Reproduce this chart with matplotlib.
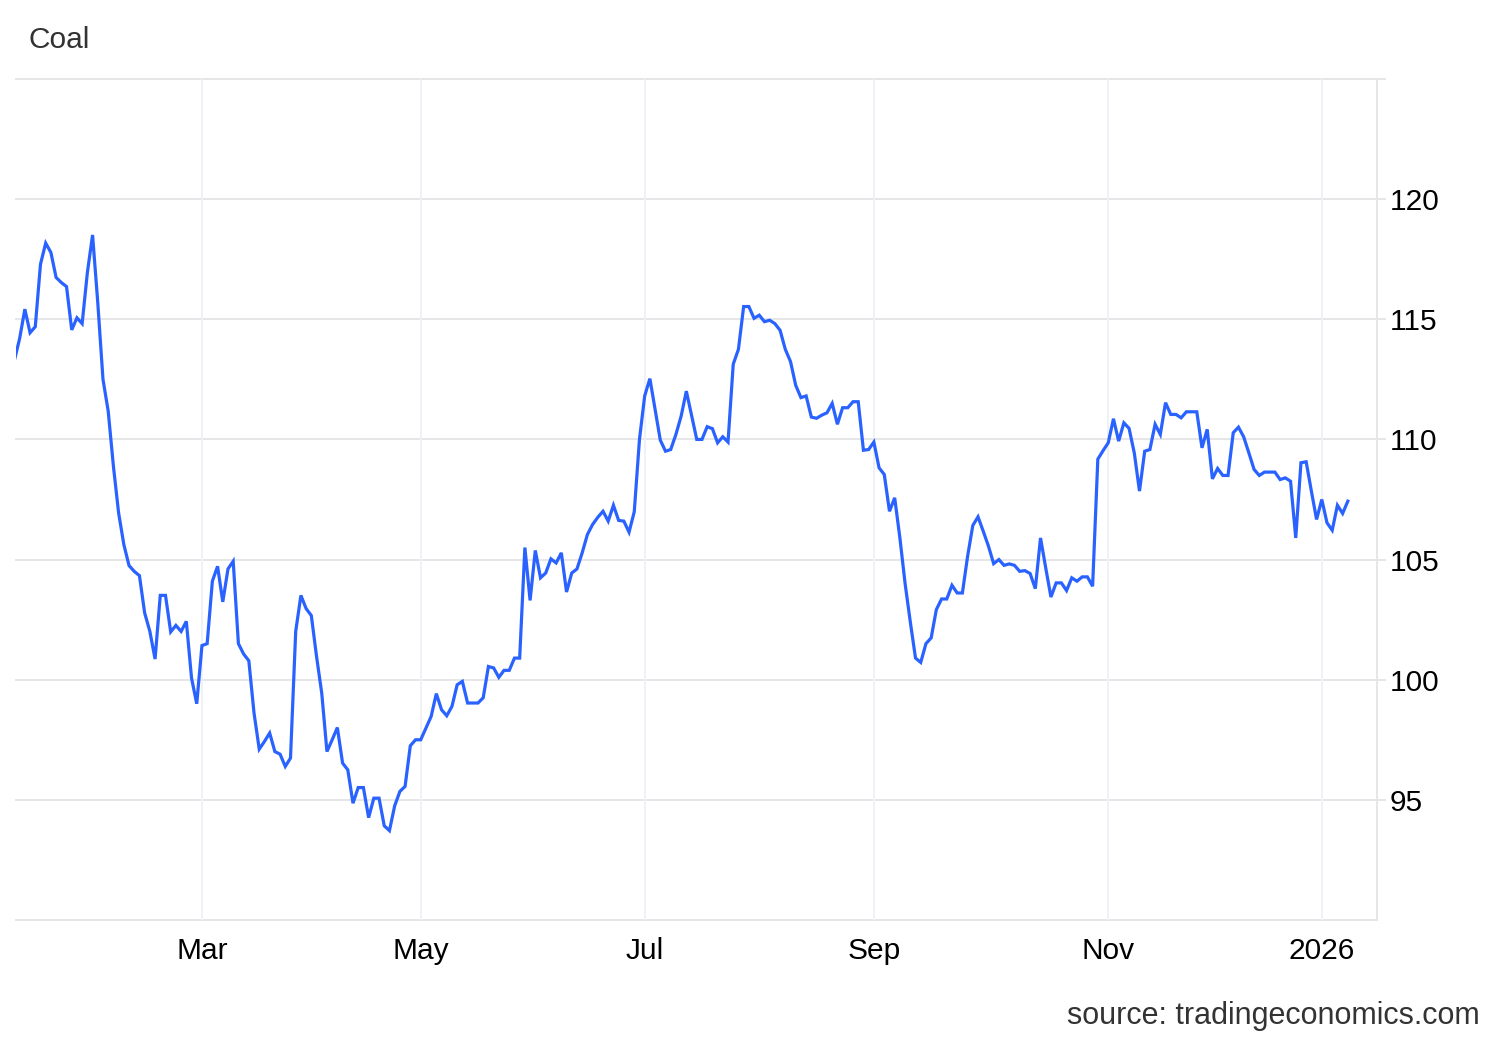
import numpy as np
import pandas as pd
import matplotlib
matplotlib.use("Agg")
import matplotlib.pyplot as plt

# ---- data (daily trading-day closes) ----
start_date = "2025-01-10"
end_date = "2026-01-09"
holidays = ["2025-04-18", "2025-12-25", "2025-12-26", "2026-01-01"]

values = [
    113.3, 114.2, 115.42, 114.44, 114.69, 117.29, 118.17, 117.78, 116.74, 116.53,
    116.36, 114.56, 115.06, 114.82, 116.94, 118.51, 115.69, 112.5, 111.18, 108.89,
    106.94, 105.63, 104.75, 104.51, 104.33, 102.78, 102.01, 100.86, 103.51, 103.51,
    101.99, 102.26, 102.01, 102.43, 100.07, 99.0,
    101.42, 101.5, 104.10, 104.72, 103.24, 104.61, 104.93,
    101.5, 101.07, 100.79, 98.61, 97.11, 97.43, 97.78, 97.01, 96.90, 96.39,
    96.74, 102.01, 103.51, 102.96, 102.67, 100.97, 99.44, 97.01, 97.5, 98.01,
    96.53, 96.25, 94.86, 95.51, 95.51, 94.26, 95.07, 95.07, 93.92, 93.72,
    94.75, 95.35, 95.56, 97.25, 97.5, 97.5, 97.99, 98.47, 99.42, 98.75,
    98.5, 98.89, 99.79, 99.93, 99.03, 99.03, 99.03, 99.25, 100.55, 100.49,
    100.1, 100.39, 100.39, 100.9, 100.9, 105.5, 103.3, 105.38, 104.24, 104.44,
    105.03, 104.86, 105.28, 103.65, 104.44, 104.61, 105.28, 106.04, 106.46, 106.76,
    107.01, 106.60, 107.26, 106.63, 106.60, 106.14, 106.99, 110.0, 111.81, 112.53,
    111.25, 109.97, 109.51, 109.58, 110.21, 110.97, 112.01, 111.0, 110.0, 110.0,
    110.53, 110.45, 109.86, 110.11, 109.89, 113.13, 113.75, 115.53, 115.53, 115.04,
    115.17, 114.9, 114.96, 114.82, 114.54, 113.75, 113.24, 112.25, 111.74, 111.81,
    110.93, 110.88, 111.01, 111.11, 111.5, 110.63, 111.32, 111.32, 111.57, 111.57,
    109.55, 109.58, 109.89, 108.82, 108.54, 107.01, 107.57, 105.9, 104.0, 102.4,
    100.9, 100.72, 101.5, 101.74, 102.92, 103.36, 103.36, 103.93, 103.61, 103.61,
    105.14, 106.42, 106.78, 106.18, 105.56, 104.83, 105.0, 104.76, 104.82, 104.76,
    104.51, 104.54, 104.42, 103.79, 105.9, 104.65, 103.44, 104.03, 104.03, 103.71,
    104.24, 104.1, 104.28, 104.28, 103.89, 109.18, 109.53, 109.86, 110.86, 109.93,
    110.69, 110.46, 109.44, 107.85, 109.51, 109.58, 110.63, 110.21, 111.53, 111.04,
    111.04, 110.90, 111.15, 111.15, 111.15, 109.65, 110.42, 108.36, 108.79, 108.5,
    108.5, 110.28, 110.51, 110.11, 109.44, 108.75, 108.5, 108.64, 108.64, 108.64,
    108.33, 108.40, 108.26, 105.9, 109.03, 109.07, 107.85, 106.67, 107.5, 106.53,
    106.22, 107.26, 106.92, 107.43,
]

tick_months = ["2025-03-01", "2025-05-01", "2025-07-01", "2025-09-01", "2025-11-01", "2026-01-01"]
tick_labels = ["Mar", "May", "Jul", "Sep", "Nov", "2026"]
y_ticks = [95, 100, 105, 110, 115, 120]

# ---- build trading-day axis ----
dates = pd.bdate_range(start_date, end_date, freq="C", holidays=holidays)
n = min(len(dates), len(values))
dates = dates[:n]
vals = np.array(values[:n])
xidx = np.arange(n)

tick_pos = [int(np.searchsorted(dates.values, np.datetime64(m))) for m in tick_months]

# ---- figure ----
plt.rcParams["font.family"] = ["Liberation Sans", "DejaVu Sans"]
fig = plt.figure(figsize=(15, 10.4), dpi=100)
ax = fig.add_axes([16 / 1500, 1 - 920 / 1040, (1377 - 16) / 1500, (920 - 79) / 1040])

ax.set_xlim(0.3, n - 1 + 5.6)
ax.set_ylim(90, 125)

for s in ax.spines.values():
    s.set_visible(False)

grid_h = "#e6e6e6"
grid_v = "#eef1f5"
for yv in [90, 95, 100, 105, 110, 115, 120, 125]:
    ax.axhline(yv, xmin=0, xmax=1.0 if yv == 90 else 1.006, color=grid_h, lw=1.4,
               clip_on=False, zorder=1)
for tp in tick_pos:
    ax.axvline(tp, color=grid_v, lw=1.4, zorder=1)
ax.axvline(ax.get_xlim()[1], color=grid_h, lw=1.4, zorder=1, clip_on=False)

ax.plot(xidx, vals, color="#2962ff", lw=2.3, solid_joinstyle="miter", zorder=3)

ax.set_xticks(tick_pos)
ax.set_xticklabels(tick_labels)
ax.yaxis.tick_right()
ax.set_yticks(y_ticks)
ax.set_yticklabels([str(v) for v in y_ticks])
ax.tick_params(axis="both", length=0, labelsize=21.5, colors="black")
ax.tick_params(axis="x", pad=12)
ax.tick_params(axis="y", pad=9)

fig.text(28 / 1500, 1 - 40 / 1040, "Coal", fontsize=21.5, color="#333333",
         ha="left", va="center")
fig.text(1480 / 1500, 1 - 1016 / 1040, "source: tradingeconomics.com", fontsize=22,
         color="#333333", ha="right", va="center")

fig.savefig("out.png", dpi=100, facecolor="white")
